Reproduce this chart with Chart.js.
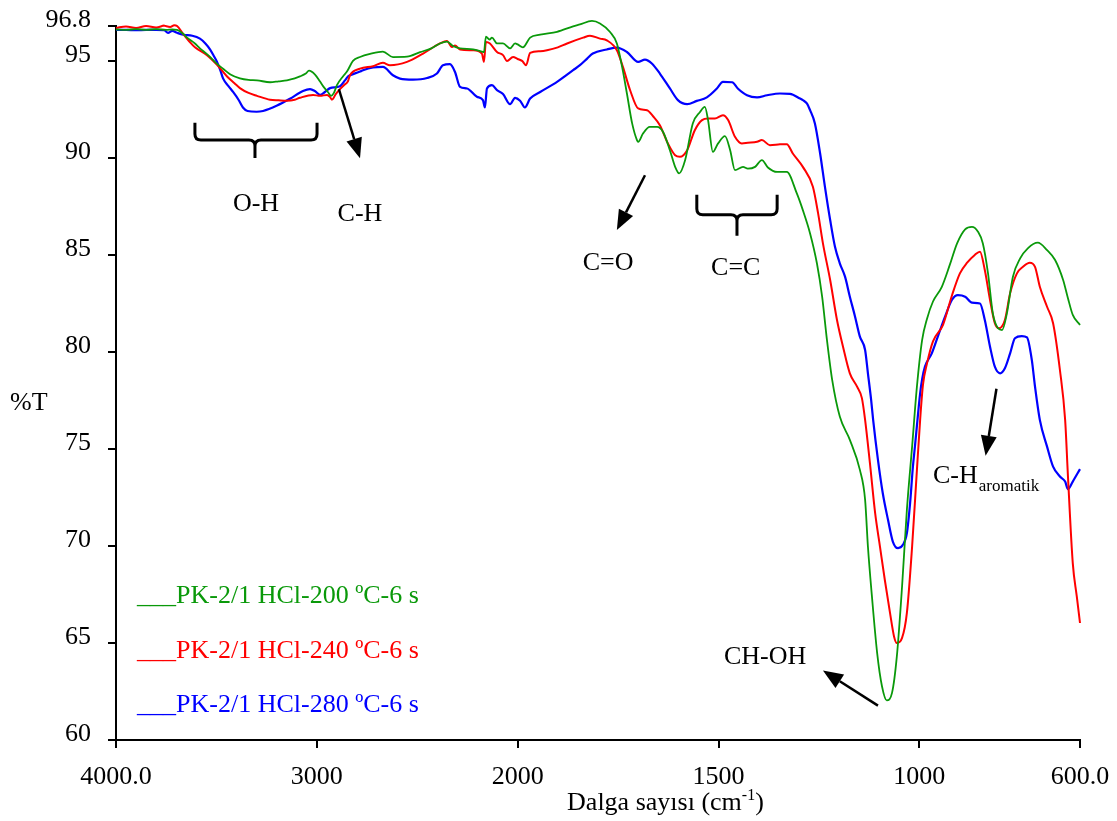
<!DOCTYPE html>
<html>
<head>
<meta charset="utf-8">
<script src="https://cdn.jsdelivr.net/npm/chart.js@4.4.1/dist/chart.umd.min.js"></script>
<style>
html,body{margin:0;padding:0;background:#fff;}
canvas{display:block;}
</style>
</head>
<body>
<canvas id="c" width="1117" height="821"></canvas>
<script>
// ---------- DATA ----------
const xTicks = [4000, 3000, 2000, 1500, 1000, 600];
const xTickLabels = ['4000.0', '3000', '2000', '1500', '1000', '600.0'];
const yTicks = [60, 65, 70, 75, 80, 85, 90, 95, 96.8];
const seriesLabels = ['PK-2/1 HCl-200 ºC-6 s', 'PK-2/1 HCl-240 ºC-6 s', 'PK-2/1 HCl-280 ºC-6 s'];
const seriesColors = ['#0a990a', '#ff0000', '#0000ff'];

const wn200 = [4000,3950,3900,3850,3800,3750,3720,3696,3666,3646,3607,3582,3547,3517,3497,3467,3430,3383,3340,3298,3233,3190,3149,3110,3084,3055,3039,3009,2985,2969,2945,2929,2915,2900,2870,2850,2820,2785,2735,2671,2621,2551,2486,2430,2387,2352,2322,2287,2222,2178,2168,2158,2140,2128,2103,2073,2038,2013,2000,1987,1969,1944,1902,1862,1845,1815,1795,1770,1753,1740,1728,1715,1703,1700,1688,1671,1653,1638,1621,1608,1598,1583,1564,1546,1534,1526,1514,1501,1484,1471,1459,1439,1427,1409,1392,1377,1354,1330,1305,1290,1272,1255,1242,1230,1217,1198,1173,1148,1135,1128,1118,1105,1093,1081,1068,1056,1043,1031,1018,1006,993,981,966,944,924,906,886,869,854,842,829,817,804,794,782,767,749,730,705,682,662,642,630,618,600];
const t200 = [96.62,96.6,96.64,96.6,96.64,96.6,96.62,96.6,96.4,96.2,95.9,95.65,95.35,95.05,94.85,94.6,94.3,94.1,94.02,94.0,93.9,93.95,94.0,94.1,94.2,94.35,94.5,94.3,93.95,93.7,93.4,93.2,93.35,93.75,94.2,94.45,95.0,95.2,95.36,95.48,95.2,95.22,95.45,95.65,95.9,95.99,95.77,95.65,95.6,95.48,95.45,96.25,96.1,96.2,95.9,95.9,95.65,95.9,95.85,95.7,96.2,96.35,96.5,96.78,96.88,97.06,96.93,96.49,95.9,94.69,93.32,91.78,90.92,90.83,91.26,91.6,91.6,91.34,90.4,89.54,89.2,89.89,91.78,92.37,92.63,91.95,90.31,90.75,91.12,90.4,89.37,89.54,89.45,89.54,89.89,89.51,89.28,89.28,88.17,87.31,86.11,84.57,82.85,80.62,78.56,76.67,75.47,73.92,72.38,69.97,67.4,64.48,62.77,62.04,62.43,64.31,67.91,71.86,75.12,78.21,80.62,81.7,82.6,83.36,84.5,85.6,86.32,86.45,86.2,85.6,84.05,81.99,81.22,81.13,81.99,83.88,84.82,85.34,85.63,85.25,84.74,83.71,82.77,81.91,81.39];

const wn240 = [4000,3950,3900,3850,3800,3760,3730,3710,3696,3666,3630,3607,3547,3497,3447,3410,3383,3340,3298,3233,3190,3149,3110,3084,3019,2984,2949,2935,2925,2905,2885,2865,2845,2835,2785,2720,2671,2636,2551,2471,2387,2352,2327,2312,2287,2222,2178,2168,2158,2138,2103,2073,2053,2023,2000,1989,1979,1969,1944,1927,1900,1877,1837,1820,1795,1778,1753,1738,1720,1700,1678,1663,1646,1626,1608,1596,1578,1559,1541,1526,1509,1489,1476,1459,1442,1427,1404,1392,1372,1347,1330,1315,1290,1265,1252,1240,1222,1205,1190,1173,1155,1143,1135,1123,1110,1098,1086,1073,1063,1056,1043,1031,1018,1006,998,991,981,966,941,919,899,881,862,849,837,824,812,802,787,774,757,742,725,712,700,682,667,650,637,630,618,608,600];
const t240 = [96.7,96.78,96.7,96.8,96.72,96.82,96.75,96.84,96.8,96.4,95.95,95.7,95.3,94.8,94.2,93.85,93.6,93.35,93.2,93.0,92.97,92.95,93.0,93.1,93.25,93.2,93.25,93.15,93.0,93.3,93.55,93.75,93.95,94.26,94.6,94.73,94.9,94.78,94.95,95.38,95.9,96.03,95.72,95.8,95.59,95.55,95.38,94.95,95.98,95.9,95.46,95.3,95.0,95.2,95.1,95.0,94.78,95.41,95.5,95.55,95.7,95.9,96.2,96.3,96.15,96.06,95.55,94.69,93.49,92.55,92.46,92.15,91.69,90.75,90.14,90.06,90.4,91.43,91.95,92.03,92.03,92.2,91.95,91.09,90.75,90.78,90.83,90.92,90.66,90.7,90.71,90.23,89.54,88.51,87.14,85.6,83.71,81.65,80.27,78.9,78.21,77.62,76.5,74.27,71.69,69.97,68.26,66.55,65.34,65.0,65.26,66.55,69.97,73.92,76.5,78.3,79.4,80.55,81.4,82.9,84.05,84.6,85.0,85.17,84.22,82.68,81.48,81.22,81.65,83.02,84.05,84.39,84.6,84.39,83.36,82.33,81.48,79.07,76.5,73.6,69.12,67.4,66.03];

const wn280 = [4000,3950,3900,3850,3800,3760,3741,3720,3696,3666,3620,3582,3555,3532,3510,3497,3480,3467,3440,3417,3390,3368,3345,3300,3268,3198,3134,3069,3034,3010,2984,2960,2934,2885,2860,2845,2835,2785,2770,2720,2671,2621,2586,2521,2451,2402,2372,2337,2312,2287,2252,2203,2173,2163,2153,2128,2103,2073,2038,2013,1994,1982,1969,1944,1902,1862,1845,1827,1813,1778,1753,1728,1700,1683,1666,1646,1621,1601,1578,1554,1529,1504,1489,1466,1452,1429,1404,1379,1347,1322,1297,1290,1280,1272,1260,1247,1235,1222,1210,1198,1185,1173,1160,1148,1135,1128,1120,1115,1103,1091,1078,1066,1053,1041,1031,1023,1016,1011,1006,998,993,986,969,954,936,919,904,886,869,849,837,824,812,799,787,774,762,745,732,720,712,700,682,667,650,637,630,618,600];
const t280 = [96.6,96.6,96.58,96.6,96.6,96.58,96.45,96.55,96.45,96.35,96.3,96.15,95.9,95.6,95.2,94.95,94.5,94.1,93.7,93.4,93.0,92.6,92.42,92.38,92.42,92.7,93.05,93.45,93.55,93.45,93.25,93.4,93.6,93.7,94.0,94.2,94.26,94.45,94.52,94.66,94.69,94.26,94.09,94.04,94.12,94.35,94.78,94.83,94.43,93.66,93.58,93.15,92.98,92.6,93.58,93.75,93.49,93.3,92.77,93.1,92.95,92.6,93.06,93.4,93.92,94.52,94.78,95.12,95.38,95.59,95.69,95.46,94.95,95.07,94.87,94.35,93.58,92.98,92.77,92.94,93.12,93.58,93.92,93.9,93.58,93.23,93.12,93.23,93.32,93.3,93.06,92.98,92.81,92.46,91.78,90.23,88.51,86.8,85.42,84.57,83.88,82.85,81.82,80.79,80.1,78.9,77.53,76.5,74.44,72.72,71.35,70.23,69.89,70.06,70.66,72.21,74.09,75.12,76.2,77.87,78.6,79.24,79.93,80.79,81.82,82.68,82.93,82.85,82.54,82.5,81.65,80.27,79.24,78.9,79.16,79.93,80.71,80.82,80.75,79.59,78.21,76.5,75.12,74.09,73.58,73.32,72.93,73.32,73.96];

// ---------- ANNOTATIONS (in data coordinates) ----------
const braces = [
  {x1: 3607, x2: 2999, xc: 3308, yTop: 91.81, yLine: 90.93, yTip: 90.0},
  {x1: 1554, x2: 1354, xc: 1454, yTop: 88.1, yLine: 87.07, yTip: 85.99}
];
const arrows = [
  {from: [2890, 93.54], to: [2785, 89.98]},
  {from: [1683, 89.11], to: [1753, 86.28]},
  {from: [1103, 61.77], to: [1240, 63.58]},
  {from: [808, 78.1], to: [835, 74.65]}
];
const notes = [
  {text: 'O-H', x: 3303, y: 87.27, align: 'center'},
  {text: 'C-H', x: 2785, y: 86.75, align: 'center'},
  {text: 'C=O', x: 1775, y: 84.22, align: 'center'},
  {text: 'C=C', x: 1457, y: 83.96, align: 'center'},
  {text: 'CH-OH', x: 1384, y: 63.93, align: 'center'},
  {text: 'C-H', sub: 'aromatik', x: 966, y: 73.25, align: 'left'}
];
const legendX = 3895;
const legendY = [67.08, 64.25, 61.42];
const xTitle = 'Dalga sayısı (cm';
const xTitleSup = '-1';
const yTitle = '%T';

const FONT = "'Liberation Serif', 'Times New Roman', serif";

// ---------- custom FTIR axis (scale doubles below 2000 cm-1) ----------
const BREAK = 2000;
function toU(v) { return v >= BREAK ? (4000 - v) : (4000 - BREAK) + 2 * (BREAK - v); }
function fromU(u) { return u <= (4000 - BREAK) ? 4000 - u : BREAK - (u - (4000 - BREAK)) / 2; }

class FtirScale extends Chart.LinearScale {
  static id = 'ftir';
  static defaults = {};
  getPixelForValue(value) {
    if (value === null || value === undefined) return NaN;
    const u0 = toU(this.max), u1 = toU(this.min);
    return this.getPixelForDecimal((toU(value) - u0) / (u1 - u0));
  }
  getValueForPixel(pixel) {
    const u0 = toU(this.max), u1 = toU(this.min);
    return fromU(u0 + this.getDecimalForPixel(pixel) * (u1 - u0));
  }
}
Chart.register(FtirScale);

function pts(wn, t) { return wn.map((w, i) => ({x: w, y: t[i]})); }

const annotPlugin = {
  id: 'annot',
  afterDraw(chart) {
    const ctx = chart.ctx, xs = chart.scales.x, ys = chart.scales.y, ca = chart.chartArea;
    const px = v => xs.getPixelForValue(v), py = v => ys.getPixelForValue(v);
    ctx.save();
    ctx.strokeStyle = '#000';
    ctx.fillStyle = '#000';
    // braces
    ctx.lineWidth = 3;
    ctx.lineJoin = 'round';
    braces.forEach(b => {
      const x1 = px(b.x1), x2 = px(b.x2), xc = px(b.xc);
      const yt = py(b.yTop), yl = py(b.yLine), yp = py(b.yTip);
      const r = 6;
      ctx.beginPath();
      ctx.moveTo(x1, yt); ctx.lineTo(x1, yl - r); ctx.quadraticCurveTo(x1, yl, x1 + r, yl);
      ctx.lineTo(xc - r, yl); ctx.quadraticCurveTo(xc, yl, xc, yl + r); ctx.lineTo(xc, yp);
      ctx.moveTo(x2, yt); ctx.lineTo(x2, yl - r); ctx.quadraticCurveTo(x2, yl, x2 - r, yl);
      ctx.lineTo(xc + r, yl); ctx.quadraticCurveTo(xc, yl, xc, yl + r);
      ctx.stroke();
    });
    // arrows
    arrows.forEach(a => {
      const x0 = px(a.from[0]), y0 = py(a.from[1]), x1 = px(a.to[0]), y1 = py(a.to[1]);
      const ang = Math.atan2(y1 - y0, x1 - x0), L = 20, W = 8;
      const bx = x1 - L * Math.cos(ang), by = y1 - L * Math.sin(ang);
      ctx.lineWidth = 2.5;
      ctx.beginPath(); ctx.moveTo(x0, y0); ctx.lineTo(bx, by); ctx.stroke();
      ctx.beginPath();
      ctx.moveTo(x1, y1);
      ctx.lineTo(bx + W * Math.sin(ang), by - W * Math.cos(ang));
      ctx.lineTo(bx - W * Math.sin(ang), by + W * Math.cos(ang));
      ctx.closePath(); ctx.fill();
    });
    // notes
    ctx.textBaseline = 'alphabetic';
    notes.forEach(n => {
      ctx.font = '26px ' + FONT;
      ctx.textAlign = n.align;
      const x = px(n.x), y = py(n.y);
      ctx.fillText(n.text, x, y);
      if (n.sub) {
        const w = ctx.measureText(n.text).width;
        ctx.font = '17px ' + FONT;
        ctx.textAlign = 'left';
        ctx.fillText(n.sub, x + w + 1, y + 8);
      }
    });
    // legend
    ctx.font = '26px ' + FONT;
    ctx.textAlign = 'left';
    chart.data.datasets.forEach((ds, i) => {
      ctx.fillStyle = ds.borderColor;
      ctx.fillText('___' + ds.label, px(legendX), py(legendY[i]));
    });
    // axis titles
    ctx.fillStyle = '#000';
    const tx = px(1877), ty = ca.bottom + 70;
    ctx.font = '26px ' + FONT;
    ctx.fillText(xTitle, tx, ty);
    let w = ctx.measureText(xTitle).width;
    ctx.font = '16px ' + FONT;
    ctx.fillText(xTitleSup, tx + w, ty - 10);
    w += ctx.measureText(xTitleSup).width;
    ctx.font = '26px ' + FONT;
    ctx.fillText(')', tx + w, ty);
    ctx.fillText(yTitle, 10, py(77.0));
    ctx.restore();
  }
};

const tickFont = {family: FONT, size: 26};

new Chart(document.getElementById('c'), {
  type: 'line',
  data: {
    datasets: [
      {label: seriesLabels[0], data: pts(wn200, t200), borderColor: seriesColors[0], borderWidth: 1.8},
      {label: seriesLabels[1], data: pts(wn240, t240), borderColor: seriesColors[1], borderWidth: 2},
      {label: seriesLabels[2], data: pts(wn280, t280), borderColor: seriesColors[2], borderWidth: 2.2}
    ].map(d => Object.assign(d, {pointRadius: 0, fill: false, cubicInterpolationMode: 'monotone', clip: false}))
  },
  options: {
    responsive: false,
    animation: false,
    devicePixelRatio: 1,
    layout: {padding: {left: 0, right: 37, top: 26, bottom: 0}},
    plugins: {legend: {display: false}, tooltip: {enabled: false}},
    scales: {
      x: {
        type: 'ftir', position: 'bottom', min: 600, max: 4000,
        afterBuildTicks: s => { s.ticks = xTicks.map(v => ({value: v})); },
        afterFit: s => { s.height = 81; s.paddingLeft = 0; s.paddingRight = 0; },
        ticks: {autoSkip: false, maxRotation: 0, minRotation: 0, color: '#000', font: tickFont, padding: 14,
                callback: (v, i) => xTickLabels[i]},
        grid: {drawOnChartArea: false, drawTicks: true, tickLength: 8, color: '#000', lineWidth: 2},
        border: {display: true, color: '#000', width: 2}
      },
      y: {
        type: 'linear', position: 'left', min: 60, max: 96.8,
        afterBuildTicks: s => { s.ticks = yTicks.map(v => ({value: v})); },
        afterFit: s => { s.width = 116; s.paddingTop = 0; s.paddingBottom = 0; },
        ticks: {color: '#000', font: tickFont, padding: 17, labelOffset: -6, callback: v => String(v)},
        grid: {drawOnChartArea: false, drawTicks: true, tickLength: 8, color: '#000', lineWidth: 2},
        border: {display: true, color: '#000', width: 2}
      }
    }
  },
  plugins: [annotPlugin]
});
</script>
</body>
</html>
